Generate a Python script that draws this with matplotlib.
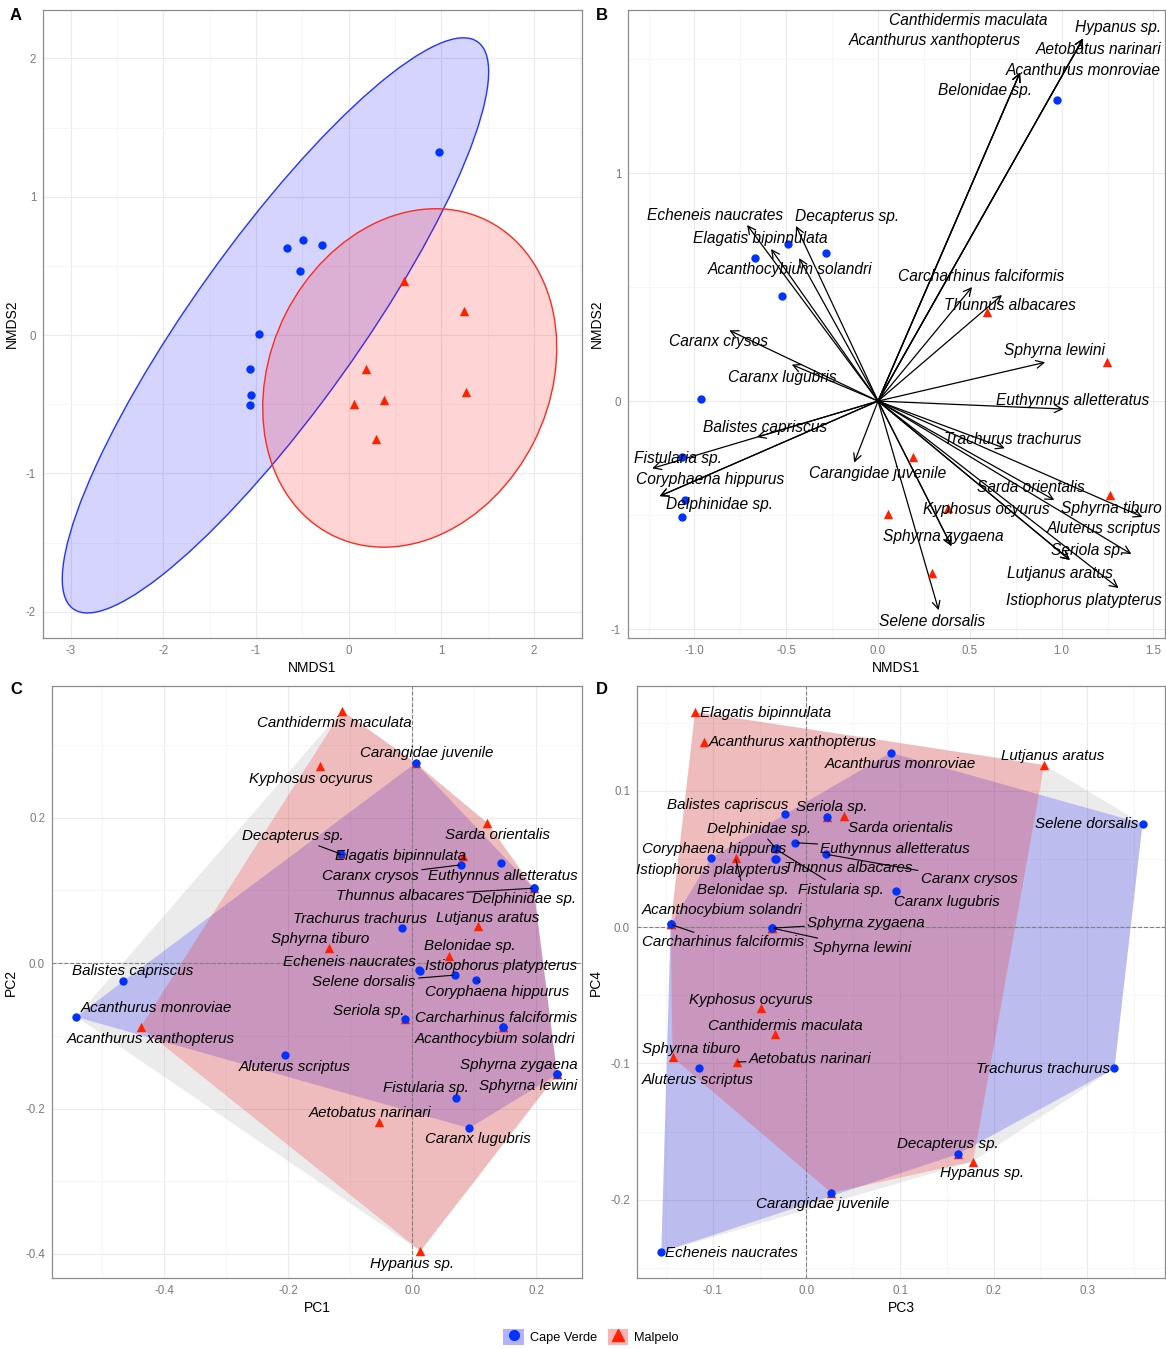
import numpy as np
import matplotlib
matplotlib.use('Agg')
import matplotlib.pyplot as plt
from matplotlib.patches import Patch, Ellipse
from matplotlib.lines import Line2D
from matplotlib.ticker import FormatStrFormatter

plt.rcParams.update({'font.family': ['Liberation Sans', 'DejaVu Sans'],
                     'axes.unicode_minus': False})

BLUE = '#0033FF'
RED = '#FF2200'

# ---- NMDS site scores (panels A, B)
cv_nmds1 = [0.977, -0.67, -0.49, -0.283, -0.523, -0.967, -1.07, -1.05, -1.07]
cv_nmds2 = [1.32, 0.627, 0.689, 0.649, 0.46, 0.009, -0.246, -0.434, -0.509]
mp_nmds1 = [0.594, 1.247, 0.19, 0.054, 0.38, 1.264, 0.294]
mp_nmds2 = [0.39, 0.171, -0.246, -0.496, -0.469, -0.412, -0.754]

# 95% ellipses: Cape Verde, Malpelo
ell_cx = [-0.79, 0.66]
ell_cy = [0.07, -0.31]
ell_semi_major = [3.01, 1.62]
ell_semi_minor = [0.75, 1.18]
ell_angle = [41.7, 16.9]

# ---- species
species = ['Acanthocybium solandri', 'Acanthurus monroviae', 'Acanthurus xanthopterus',
           'Aetobatus narinari', 'Aluterus scriptus', 'Balistes capriscus', 'Belonidae sp.',
           'Canthidermis maculata', 'Carangidae juvenile', 'Caranx crysos', 'Caranx lugubris',
           'Carcharhinus falciformis', 'Coryphaena hippurus', 'Decapterus sp.', 'Delphinidae sp.',
           'Echeneis naucrates', 'Elagatis bipinnulata', 'Euthynnus alletteratus', 'Fistularia sp.',
           'Hypanus sp.', 'Istiophorus platypterus', 'Kyphosus ocyurus', 'Lutjanus aratus',
           'Sarda orientalis', 'Selene dorsalis', 'Seriola sp.', 'Sphyrna lewini', 'Sphyrna tiburo',
           'Sphyrna zygaena', 'Thunnus albacares', 'Trachurus trachurus']

cape_verde = ['Acanthocybium solandri', 'Acanthurus monroviae', 'Aluterus scriptus',
              'Balistes capriscus', 'Carangidae juvenile', 'Caranx crysos', 'Caranx lugubris',
              'Carcharhinus falciformis', 'Coryphaena hippurus', 'Decapterus sp.', 'Delphinidae sp.',
              'Echeneis naucrates', 'Euthynnus alletteratus', 'Fistularia sp.',
              'Istiophorus platypterus', 'Selene dorsalis', 'Seriola sp.', 'Sphyrna lewini',
              'Sphyrna zygaena', 'Thunnus albacares', 'Trachurus trachurus']
malpelo = ['Acanthocybium solandri', 'Acanthurus xanthopterus', 'Aetobatus narinari',
           'Belonidae sp.', 'Canthidermis maculata', 'Carangidae juvenile',
           'Carcharhinus falciformis', 'Decapterus sp.', 'Delphinidae sp.', 'Elagatis bipinnulata',
           'Hypanus sp.', 'Kyphosus ocyurus', 'Lutjanus aratus', 'Sarda orientalis', 'Seriola sp.',
           'Sphyrna lewini', 'Sphyrna tiburo', 'Sphyrna zygaena']

# species vectors (panel B) and their label spots
vec1 = [-0.43, 0.773, 0.773, 1.117, 1.38, -0.66, 0.773, 1.117, -0.13, -0.81, -0.47,
        0.512, -1.19, -0.447, -1.19, -0.713, -0.583, 1.01, -1.23, 1.117, 1.31, 0.40,
        1.045, 0.96, 0.33, 1.045, 0.91, 1.44, 0.40, 0.675, 0.69]
vec2 = [0.627, 1.44, 1.44, 1.59, -0.671, -0.158, 1.44, 1.59, -0.27, 0.31, 0.16,
        0.50, -0.417, 0.768, -0.417, 0.772, 0.667, -0.035, -0.295, 1.59, -0.82, -0.636,
        -0.697, -0.434, -0.917, -0.697, 0.17, -0.508, -0.636, 0.465, -0.207]
vlab1 = [-0.48, 1.12, 0.31, 1.20, 1.23, -0.615, 0.58, 0.49, -0.005, -0.87, -0.52,
         0.56, -0.915, -0.17, -0.866, -0.89, -0.64, 1.06, -1.09, 1.31, 1.12, 0.588,
         0.99, 0.83, 0.294, 1.14, 0.96, 1.27, 0.354, 0.72, 0.735]
vlab2 = [0.575, 1.45, 1.58, 1.54, -0.56, -0.114, 1.36, 1.67, -0.316, 0.263, 0.105,
         0.548, -0.342, 0.81, -0.452, 0.816, 0.715, 0.004, -0.254, 1.64, -0.873, -0.474,
         -0.754, -0.377, -0.965, -0.654, 0.22, -0.469, -0.592, 0.417, -0.167]

# PCA scores (panels C, D)
pc1 = [0.146, -0.542, -0.438, -0.054, -0.205, -0.466, 0.060, -0.113, 0.0055, 0.078, 0.092,
       0.146, 0.103, -0.115, 0.196, 0.011, 0.082, 0.144, 0.070, 0.0134, 0.013, -0.149,
       0.107, 0.121, 0.069, -0.011, 0.234, -0.134, 0.234, 0.196, -0.017]
pc2 = [-0.088, -0.074, -0.088, -0.219, -0.126, -0.025, 0.0096, 0.347, 0.275, 0.135, -0.227,
       -0.088, -0.023, 0.150, 0.103, -0.0096, 0.147, 0.137, -0.186, -0.396, -0.011, 0.271,
       0.051, 0.193, -0.0165, -0.077, -0.153, 0.021, -0.153, 0.103, 0.048]
pc3 = [-0.145, 0.090, -0.1095, -0.0747, -0.1146, -0.0224, -0.0757, -0.0334, 0.0267, 0.021,
       0.096, -0.145, -0.102, 0.1615, -0.033, -0.155, -0.119, -0.012, -0.032, 0.178, -0.034,
       -0.049, 0.254, 0.040, 0.359, 0.0224, -0.0366, -0.143, -0.0366, -0.033, 0.329]
pc4 = [0.002, 0.128, 0.136, -0.099, -0.1037, 0.083, 0.0506, -0.0787, -0.195, 0.0535, 0.0264,
       0.002, 0.0506, -0.1667, 0.058, -0.2385, 0.158, 0.062, 0.057, -0.172, 0.050, -0.0596,
       0.119, 0.0814, 0.076, 0.0807, -0.0007, -0.0955, -0.0007, 0.050, -0.1037]

# label spots for C and D
lab1 = [0.133, -0.413, -0.422, -0.0685, -0.190, -0.4505, 0.0935, -0.125, 0.0237, -0.067, 0.1068,
        0.1358, 0.137, -0.193, 0.180, -0.1016, -0.0187, 0.146, 0.0225, -0.0005, 0.143, -0.164,
        0.122, 0.137, -0.0774, -0.070, 0.1874, -0.148, 0.1723, -0.020, -0.084]
lab2 = [-0.105, -0.0623, -0.105, -0.2068, -0.1426, -0.011, 0.0234, 0.3305, 0.289, 0.1197, -0.2412,
        -0.0761, -0.0394, 0.1747, 0.088, 0.0018, 0.147, 0.1197, -0.1724, -0.4131, -0.0041, 0.2535,
        0.062, 0.176, -0.0266, -0.066, -0.1687, 0.033, -0.140, 0.092, 0.0605]
lab3 = [-0.0902, 0.1007, -0.0146, 0.0038, -0.1166, -0.0844, -0.0675, -0.0228, 0.0176, 0.1737,
        0.1498, -0.0895, -0.0981, 0.1509, -0.0502, -0.0797, -0.044, 0.0948, 0.0371, 0.1873,
        -0.1009, -0.0589, 0.2635, 0.1007, 0.2997, 0.0273, 0.0595, -0.1236, 0.0635, 0.045, 0.2528]
lab4 = [0.0125, 0.1196, 0.1357, -0.0971, -0.1122, 0.0895, 0.0271, -0.0726, -0.2032, 0.035,
        0.0186, -0.011, 0.057, -0.1594, 0.0719, -0.2394, 0.1572, 0.0577, 0.0276, -0.1807,
        0.0423, -0.0536, 0.1255, 0.0731, 0.0756, 0.0883, -0.0152, -0.0897, 0.0032, 0.0431, -0.1042]

seg_c = ['Decapterus sp.', 'Caranx crysos', 'Thunnus albacares', 'Selene dorsalis',
         'Coryphaena hippurus']
seg_d = ['Delphinidae sp.', 'Euthynnus alletteratus', 'Caranx crysos', 'Fistularia sp.',
         'Belonidae sp.', 'Carcharhinus falciformis', 'Sphyrna zygaena', 'Sphyrna lewini',
         'Aetobatus narinari']


def hull(x, y):
    pts = sorted(set(zip(x, y)))

    def cross(o, a, b):
        return (a[0] - o[0]) * (b[1] - o[1]) - (a[1] - o[1]) * (b[0] - o[0])
    lower, upper = [], []
    for p in pts:
        while len(lower) >= 2 and cross(lower[-2], lower[-1], p) <= 0:
            lower.pop()
        lower.append(p)
    for p in reversed(pts):
        while len(upper) >= 2 and cross(upper[-2], upper[-1], p) <= 0:
            upper.pop()
        upper.append(p)
    return np.array(lower[:-1] + upper[:-1])


def style(ax, xlim, ylim, xmaj, ymaj, xmin, ymin, xlab, ylab, xf, yf):
    ax.set_xlim(xlim)
    ax.set_ylim(ylim)
    ax.set_xticks(xmaj)
    ax.set_yticks(ymaj)
    ax.set_xticks(xmin, minor=True)
    ax.set_yticks(ymin, minor=True)
    ax.xaxis.set_major_formatter(FormatStrFormatter(xf))
    ax.yaxis.set_major_formatter(FormatStrFormatter(yf))
    ax.grid(which='major', color='#EBEBEB', lw=0.8)
    ax.grid(which='minor', color='#F3F3F3', lw=0.5)
    ax.set_axisbelow(True)
    for s in ax.spines.values():
        s.set_color('#8C8C8C')
        s.set_linewidth(0.9)
    ax.tick_params(which='both', length=0, labelsize=8.3, labelcolor='#7A7A7A', pad=5)
    ax.set_xlabel(xlab, fontsize=10, labelpad=3)
    ax.set_ylabel(ylab, fontsize=10, labelpad=5)


W, H = 1166, 1349
fig = plt.figure(figsize=(W / 100, H / 100), dpi=100)


def box(l, t, r, b):
    return fig.add_axes([l / W, 1 - b / H, (r - l) / W, (b - t) / H])


axA = box(43, 10, 582, 638)
axB = box(628, 10, 1165, 638)
axC = box(52, 686, 582, 1278)
axD = box(637, 686, 1165, 1278)

# ---------- A
for i, (fc, ec) in enumerate([((0, 0, 1, 0.17), '#2233FF'), ((1, 0, 0, 0.17), '#FF2A1A')]):
    axA.add_patch(Ellipse((ell_cx[i], ell_cy[i]), 2 * ell_semi_major[i], 2 * ell_semi_minor[i],
                          angle=ell_angle[i], facecolor=fc, edgecolor=ec, lw=1, zorder=2))
axA.scatter(cv_nmds1, cv_nmds2, s=36, c=BLUE, marker='o', lw=0, zorder=4)
axA.scatter(mp_nmds1, mp_nmds2, s=46, c=RED, marker='^', lw=0, zorder=4)
style(axA, (-3.30, 2.52), (-2.19, 2.35), range(-3, 3), range(-2, 3),
      np.arange(-2.5, 2.6, 1), np.arange(-1.5, 2.1, 1), 'NMDS1', 'NMDS2', '%d', '%d')

# ---------- B
for i, name in enumerate(species):
    axB.annotate('', xy=(vec1[i], vec2[i]), xytext=(0, 0),
                 arrowprops=dict(arrowstyle='->,head_length=0.55,head_width=0.28', color='black',
                                 lw=0.9, shrinkA=0, shrinkB=0, mutation_scale=10), zorder=3)
    axB.text(vlab1[i], vlab2[i], name, style='italic', fontsize=11.2, ha='center', va='center',
             zorder=5)
axB.scatter(cv_nmds1, cv_nmds2, s=36, c=BLUE, marker='o', lw=0, zorder=4)
axB.scatter(mp_nmds1, mp_nmds2, s=46, c=RED, marker='^', lw=0, zorder=4)
style(axB, (-1.362, 1.563), (-1.039, 1.715), np.arange(-1, 1.6, 0.5), [-1, 0, 1],
      np.arange(-1.25, 1.6, 0.5), [-0.5, 0.5, 1.5], 'NMDS1', 'NMDS2', '%.1f', '%d')


# ---------- C, D
def pca_panel(ax, xs, ys, lx, ly, segs):
    xs = np.array(xs)
    ys = np.array(ys)
    cv = np.isin(species, cape_verde)
    mp = np.isin(species, malpelo)
    for mask, col, a in [(np.ones(len(xs), bool), '#7F7F7F', 0.15),
                         (cv, '#0000FF', 0.2), (mp, '#FF0000', 0.2)]:
        h = hull(xs[mask], ys[mask])
        ax.fill(h[:, 0], h[:, 1], color=col, alpha=a, lw=0, zorder=1)
    ax.axhline(0, color='#808080', ls='--', lw=0.8, zorder=2)
    ax.axvline(0, color='#808080', ls='--', lw=0.8, zorder=2)
    ax.scatter(xs[mp], ys[mp], s=46, c=RED, marker='^', lw=0, zorder=4)
    ax.scatter(xs[cv], ys[cv], s=36, c=BLUE, marker='o', lw=0, zorder=5)
    for i, name in enumerate(species):
        if name in segs:
            ax.annotate(name, xy=(xs[i], ys[i]), xytext=(lx[i], ly[i]), style='italic',
                        fontsize=10.9, ha='center', va='center', zorder=6,
                        arrowprops=dict(arrowstyle='-', color='black', lw=0.8,
                                        shrinkA=0, shrinkB=1))
        else:
            ax.text(lx[i], ly[i], name, style='italic', fontsize=10.9, ha='center',
                    va='center', zorder=6)


pca_panel(axC, pc1, pc2, lab1, lab2, seg_c)
style(axC, (-0.581, 0.274), (-0.433, 0.381), [-0.4, -0.2, 0.0, 0.2], [-0.4, -0.2, 0.0, 0.2],
      [-0.5, -0.3, -0.1, 0.1], [-0.3, -0.1, 0.1, 0.3], 'PC1', 'PC2', '%.1f', '%.1f')
pca_panel(axD, pc3, pc4, lab3, lab4, seg_d)
style(axD, (-0.181, 0.383), (-0.2575, 0.177), [-0.1, 0.0, 0.1, 0.2, 0.3], [-0.2, -0.1, 0.0, 0.1],
      [-0.15, -0.05, 0.05, 0.15, 0.25, 0.35], [-0.25, -0.15, -0.05, 0.05, 0.15],
      'PC3', 'PC4', '%.1f', '%.1f')

for letter, x, y in [('A', 10, 15), ('B', 596, 15), ('C', 10, 690), ('D', 596, 690)]:
    fig.text(x / W, 1 - y / H, letter, fontsize=12, weight='bold', va='center')

handles = [(Patch(facecolor='#0000FF', alpha=0.3, lw=0),
            Line2D([], [], ls='', marker='o', color=BLUE, markersize=7)),
           (Patch(facecolor='#FF0000', alpha=0.3, lw=0),
            Line2D([], [], ls='', marker='^', color=RED, markersize=8))]
fig.legend(handles, ['Cape Verde', 'Malpelo'], loc='center', bbox_to_anchor=(0.507, 1 - 1337 / H),
           ncol=2, frameon=False, fontsize=9.2, handlelength=1.6, handleheight=1.6,
           handletextpad=0.5, columnspacing=0.8)

fig.savefig('out.png', dpi=100)
